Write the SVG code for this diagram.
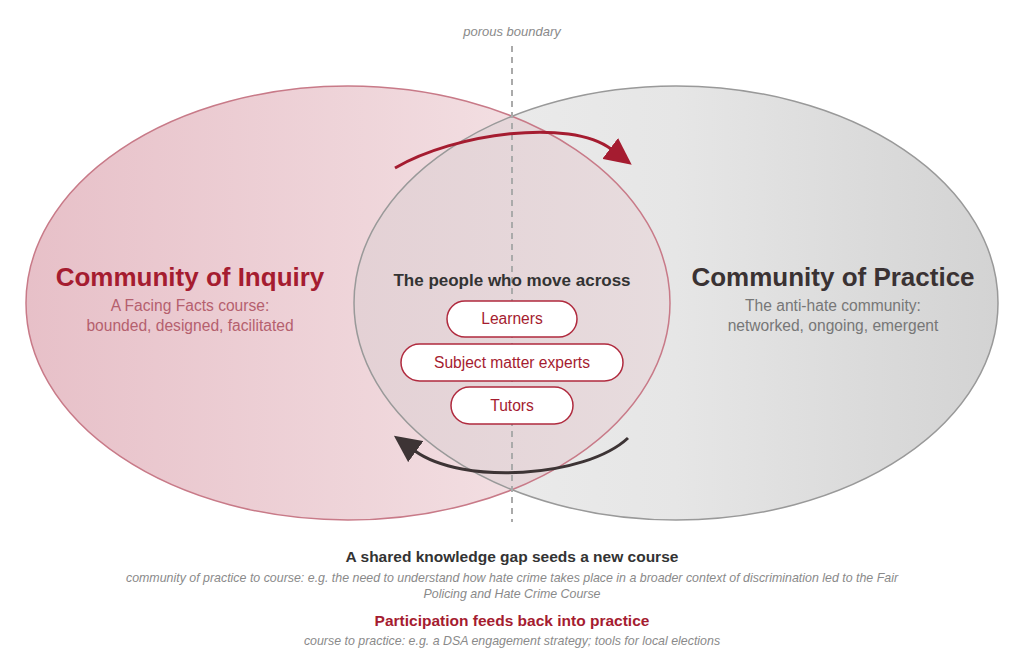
<svg xmlns="http://www.w3.org/2000/svg" width="1024" height="668" viewBox="0 0 1024 668">
<style>
text { font-family: "Liberation Sans", Arial, sans-serif; text-anchor: middle; }
.title { font-size: 26px; font-weight: bold; }
.sub { font-size: 15.6px; }
.pill rect { fill: #ffffff; stroke: #b02a3e; stroke-width: 1.5; }
.pill text { font-size: 15.6px; fill: #a51c30; }
.note { font-size: 12.4px; font-style: italic; fill: #8a8a8a; }
.head { font-size: 15.5px; font-weight: bold; }
</style>
<defs>
<linearGradient id="gLeft" gradientUnits="userSpaceOnUse" x1="26" y1="0" x2="670" y2="0">
<stop offset="0" stop-color="#e7c0c8"/>
<stop offset="1" stop-color="#f6e8ea"/>
</linearGradient>
<linearGradient id="gRight" gradientUnits="userSpaceOnUse" x1="354" y1="0" x2="998" y2="0">
<stop offset="0" stop-color="#eeeeee"/>
<stop offset="0.5" stop-color="#e6e6e6"/>
<stop offset="1" stop-color="#d3d3d3"/>
</linearGradient>
<linearGradient id="gLens" gradientUnits="userSpaceOnUse" x1="354" y1="0" x2="670" y2="0">
<stop offset="0" stop-color="#e4d1d5"/>
<stop offset="1" stop-color="#e7dcde"/>
</linearGradient>
<clipPath id="clipLeft"><ellipse cx="348" cy="303" rx="322" ry="217"/></clipPath>
<marker id="headRed" markerUnits="userSpaceOnUse" viewBox="0 0 27 26" refX="1" refY="13" markerWidth="27" markerHeight="26" orient="auto">
<path d="M0,0 L27,13 L0,26 z" fill="#a51c30"/>
</marker>
<marker id="headDark" markerUnits="userSpaceOnUse" viewBox="0 0 27 26" refX="1" refY="13" markerWidth="27" markerHeight="26" orient="auto">
<path d="M0,0 L27,13 L0,26 z" fill="#3d3435"/>
</marker>
</defs>
<rect width="1024" height="668" fill="#ffffff"/>

<g id="inquiry-fill">
<ellipse cx="348" cy="303" rx="322" ry="217" fill="url(#gLeft)"/>
</g>
<g id="practice-fill">
<ellipse cx="676" cy="303" rx="322" ry="217" fill="url(#gRight)"/>
</g>
<g id="overlap">
<ellipse cx="676" cy="303" rx="322" ry="217" fill="url(#gLens)" clip-path="url(#clipLeft)"/>
</g>
<g id="outlines" fill="none" stroke-width="1.5">
<ellipse cx="348" cy="303" rx="322" ry="217" stroke="#c87a88"/>
<ellipse cx="676" cy="303" rx="322" ry="217" stroke="#999999"/>
</g>

<g id="boundary">
<line x1="512" y1="46" x2="512" y2="522" stroke="#aaaaaa" stroke-width="2" stroke-dasharray="6 5"/>
<text x="512" y="36" class="note" style="font-size:13px">porous boundary</text>
</g>

<g id="connectors" fill="none" stroke-width="3">
<path d="M395,168 C455,133 570,118 611,149" stroke="#a51c30" marker-end="url(#headRed)"/>
<path d="M628,438 C585,478 462,485 415,451" stroke="#3d3435" marker-end="url(#headDark)"/>
</g>

<g id="community-of-inquiry">
<text x="190" y="286" class="title" fill="#a51c30">Community of Inquiry</text>
<text x="190" y="311" class="sub" fill="#b5606e">A Facing Facts course:</text>
<text x="190" y="331" class="sub" fill="#b5606e">bounded, designed, facilitated</text>
</g>

<g id="community-of-practice">
<text x="833" y="286" class="title" fill="#3a3233">Community of Practice</text>
<text x="833" y="311" class="sub" fill="#777777">The anti-hate community:</text>
<text x="833" y="331" class="sub" fill="#777777">networked, ongoing, emergent</text>
</g>

<g id="people">
<text x="512" y="286" style="font-size:17px;font-weight:bold" fill="#333333">The people who move across</text>
</g>
<g id="learners" class="pill">
<rect x="447" y="301" width="130" height="36" rx="18"/>
<text x="512" y="324">Learners</text>
</g>
<g id="experts" class="pill">
<rect x="401" y="344" width="222" height="37" rx="18.5"/>
<text x="512" y="368">Subject matter experts</text>
</g>
<g id="tutors" class="pill">
<rect x="451" y="387" width="122" height="37" rx="18.5"/>
<text x="512" y="411">Tutors</text>
</g>

<g id="legend-gap">
<text x="512" y="562" class="head" fill="#333333">A shared knowledge gap seeds a new course</text>
<text x="512" y="582" class="note">community of practice to course: e.g. the need to understand how hate crime takes place in a broader context of discrimination led to the Fair</text>
<text x="512" y="598" class="note">Policing and Hate Crime Course</text>
</g>
<g id="legend-participation">
<text x="512" y="626" class="head" fill="#a51c30">Participation feeds back into practice</text>
<text x="512" y="645" class="note">course to practice: e.g. a DSA engagement strategy; tools for local elections</text>
</g>
</svg>
